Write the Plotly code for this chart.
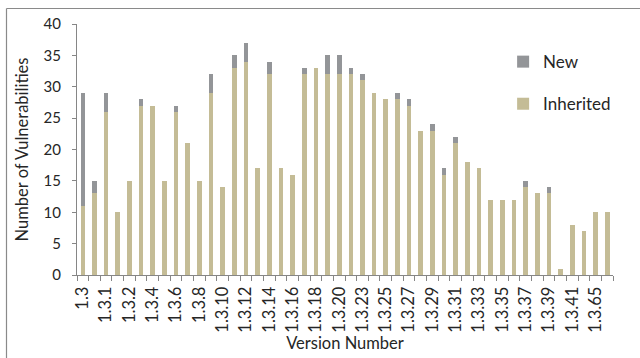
import plotly.graph_objects as go

versions = ["1.3", "1.3.0", "1.3.1", "1.3.1.1", "1.3.2", "1.3.3", "1.3.4", "1.3.5",
            "1.3.6", "1.3.7", "1.3.8", "1.3.9", "1.3.10", "1.3.11", "1.3.12", "1.3.13",
            "1.3.14", "1.3.15", "1.3.16", "1.3.17", "1.3.18", "1.3.19", "1.3.20", "1.3.22",
            "1.3.23", "1.3.24", "1.3.25", "1.3.26", "1.3.27", "1.3.28", "1.3.29", "1.3.30",
            "1.3.31", "1.3.32", "1.3.33", "1.3.34", "1.3.35", "1.3.36", "1.3.37", "1.3.38",
            "1.3.39", "1.3.40", "1.3.41", "1.3.42", "1.3.65", "1.3.66"]
inherited = [11, 13, 26, 10, 15, 27, 27, 15, 26, 21, 15, 29, 14, 33, 34, 17,
             32, 17, 16, 32, 33, 32, 32, 32, 31, 29, 28, 28, 27, 23, 23, 16,
             21, 18, 17, 12, 12, 12, 14, 13, 13, 1, 8, 7, 10, 10]
new = [18, 2, 3, 0, 0, 1, 0, 0, 1, 0, 0, 3, 0, 2, 3, 0,
       2, 0, 0, 1, 0, 3, 3, 1, 1, 0, 0, 1, 1, 0, 1, 1,
       1, 0, 0, 0, 0, 0, 1, 0, 1, 0, 0, 0, 0, 0]
tick_labels = [v if i % 2 == 0 else "" for i, v in enumerate(versions)]

fig = go.Figure()
fig.add_trace(go.Bar(x=versions, y=inherited, name="Inherited", legendgroup="b", legendrank=2,
                     marker=dict(color="#C4BC96", line=dict(width=0))))
fig.add_trace(go.Bar(x=versions, y=new, name="New", legendgroup="a", legendrank=1,
                     marker=dict(color="#939598", line=dict(width=0))))

font = "Lato, 'Open Sans', sans-serif"
fig.update_layout(
    barmode="stack", bargap=0.6,
    width=640, height=358,
    margin=dict(l=77, r=27, t=24, b=83),
    paper_bgcolor="white", plot_bgcolor="white",
    font=dict(family=font, size=15, color="#262626"),
    legend=dict(x=0.795, y=0.92, xanchor="left", yanchor="top",
                traceorder="grouped", tracegroupgap=17,
                font=dict(size=17, color="#262626"), bgcolor="rgba(0,0,0,0)"),
    xaxis=dict(type="category", tickmode="array", tickvals=versions, ticktext=tick_labels,
               tickangle=-90, tickfont=dict(size=16.5), ticks="outside", ticklen=5,
               tickcolor="#868686", tickson="boundaries", ticklabelstandoff=4,
               showline=True, linecolor="#868686", linewidth=1, showgrid=False,
               title=dict(text="Version Number", font=dict(size=16.5), standoff=2)),
    yaxis=dict(range=[0, 40], dtick=5, ticks="outside", ticklen=4, tickcolor="#868686",
               showline=True, linecolor="#868686", linewidth=1, showgrid=False,
               zeroline=False, tickfont=dict(size=15), ticklabelstandoff=8,
               title=dict(text="Number of Vulnerabilities", font=dict(size=16.5), standoff=10)),
    shapes=[
        dict(type="line", xref="paper", yref="paper", x0=(6.5 - 77) / 536, x1=(6.5 - 77) / 536,
             y0=1 + 15.5 / 251, y1=-83 / 251, line=dict(color="#8a8a8a", width=1.2)),
        dict(type="line", xref="paper", yref="paper", x0=(6.5 - 77) / 536, x1=1 + 27 / 536,
             y0=1 + 15.5 / 251, y1=1 + 15.5 / 251, line=dict(color="#8a8a8a", width=1.2)),
    ],
)

fig.write_html("out.html", config={"displayModeBar": False},
               post_script="document.body.style.margin='0';document.body.style.overflow='hidden';")
